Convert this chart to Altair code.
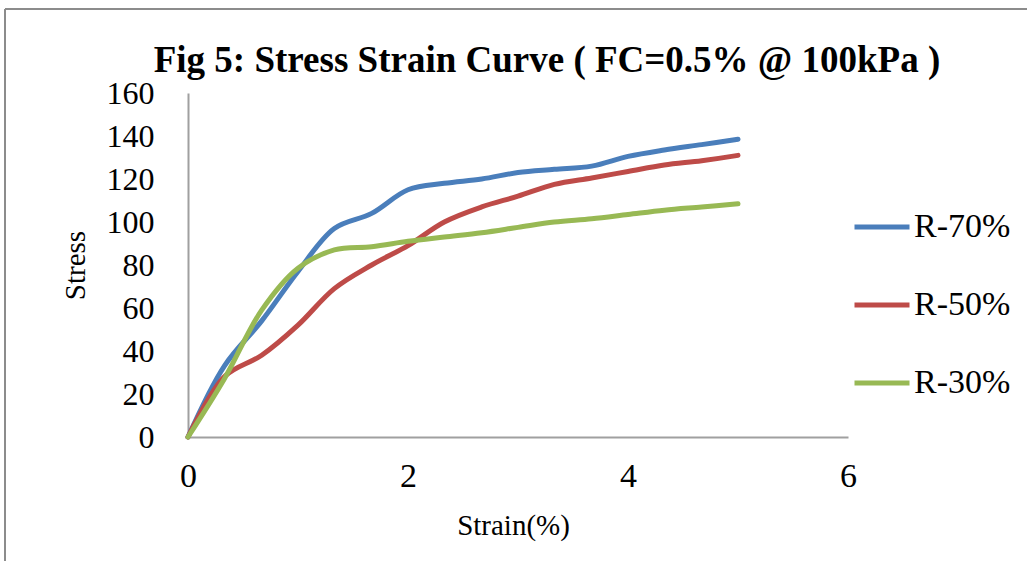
import altair as alt
import pandas as pd

strain = [0, 0.33, 0.67, 1.0, 1.33, 1.67, 2.0, 2.33, 2.67, 3.0, 3.33, 3.67, 4.0, 4.33, 4.67, 5.0]
r70 = [0, 33, 54, 77, 97, 104, 115, 118, 120, 123, 124.5, 126, 130.5, 133.5, 136, 138.5]
r50 = [0, 28, 38, 52, 69, 80, 89, 100, 107, 112, 117.5, 120.5, 123.5, 126.5, 128.5, 131]
r30 = [0, 27, 59, 78.5, 87, 88.5, 91, 93, 95, 97.5, 100, 101.5, 103.5, 105.5, 107, 108.5]
series = ["R-70%", "R-50%", "R-30%"]
colors = ["#4A7EBB", "#BE4B48", "#98B954"]
x_ticks = [0, 2, 4, 6]
y_ticks = [0, 20, 40, 60, 80, 100, 120, 140, 160]

rows = []
for name, vals in zip(series, [r70, r50, r30]):
    for s, v in zip(strain, vals):
        rows.append({"Strain": s, "Stress": v, "Series": name})
df = pd.DataFrame(rows)

FONT = "Liberation Serif"

lines = alt.Chart(df).mark_line(strokeWidth=5, interpolate="catmull-rom", strokeCap="round").encode(
    x=alt.X("Strain:Q", scale=alt.Scale(domain=[0, 6]),
            axis=alt.Axis(values=x_ticks, title="Strain(%)", grid=False, ticks=False,
                          domainColor="#A0A0A0", domainWidth=2, labelFlush=False,
                          labelFontSize=34, labelPadding=22, labelColor="black",
                          titleFontSize=29, titleFontWeight="normal", titleColor="black",
                          titlePadding=18, titleX=325)),
    y=alt.Y("Stress:Q", scale=alt.Scale(domain=[0, 160]),
            axis=alt.Axis(values=y_ticks, title="Stress", grid=False, ticks=False,
                          domainColor="#A0A0A0", domainWidth=2, labelFlush=False,
                          labelFontSize=32, labelPadding=34, labelColor="black",
                          titleFontSize=29, titleFontWeight="normal", titleColor="black",
                          titleX=-113, titleY=172, titleAngle=-90,
                          titleAlign="center", titleBaseline="middle")),
    color=alt.Color("Series:N", scale=alt.Scale(domain=series, range=colors),
                    sort=series,
                    legend=alt.Legend(title=None, orient="none", legendX=664, legendY=104,
                                      symbolType="stroke", symbolSize=3025, symbolStrokeWidth=5,
                                      labelFontSize=34, labelFont=FONT, labelColor="black",
                                      labelOffset=2, rowPadding=31)),
)

frame = alt.Chart(alt.Data(values=[{"a": 1}])).mark_rule(color="#8C8C8C", strokeWidth=2).encode(
    x=alt.value(-183), y=alt.value(-84), y2=alt.value(470)
)
frame_top = alt.Chart(alt.Data(values=[{"a": 1}])).mark_rule(color="#8C8C8C", strokeWidth=2).encode(
    x=alt.value(-183), x2=alt.value(850), y=alt.value(-84)
)

chart = alt.layer(frame, frame_top, lines).properties(
    width=660, height=344,
    padding={"left": 188, "top": 93, "right": 179, "bottom": 124},
    autosize=alt.AutoSizeParams(type="none"),
    title=alt.TitleParams("Fig 5: Stress Strain Curve ( FC=0.5% @ 100kPa )",
                          font=FONT, fontSize=37, fontWeight="bold", color="black",
                          anchor="middle", dx=29, dy=90, offset=18),
).configure(font=FONT, background="white").configure_view(stroke="transparent", strokeWidth=0)

chart.save("out.html", embed_options={"renderer": "svg", "actions": False})
